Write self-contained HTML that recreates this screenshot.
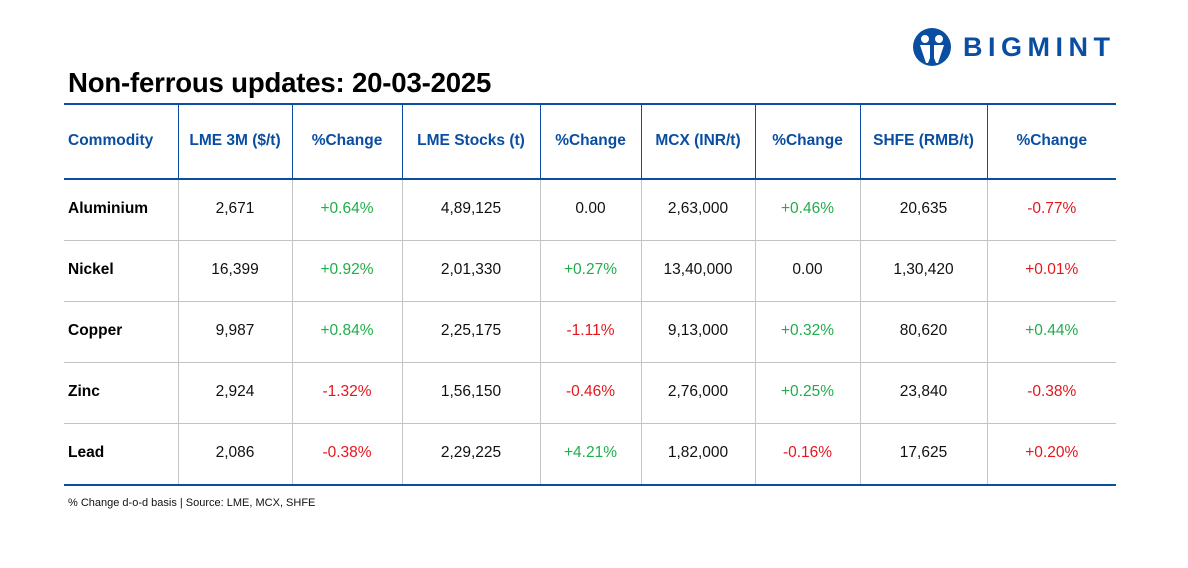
<!DOCTYPE html>
<html><head><meta charset="utf-8"><style>
body{margin:0;width:1188px;height:568px;background:#fff;position:relative;font-family:"Liberation Sans",Arial,sans-serif;overflow:hidden}
h1{position:absolute;left:68px;top:67px;margin:0;font-size:27.6px;font-weight:bold;color:#000;letter-spacing:-0.2px}
table{position:absolute;left:64px;top:103px;border-collapse:collapse;table-layout:fixed;width:1052px}
td,th{padding:0;text-align:center;font-size:15.5px;color:#111}
th{height:72px;color:#0a4ea2;font-weight:bold;border-top:2px solid #0a4ea2;border-bottom:2px solid #0a4ea2;border-left:1.5px solid #0a4ea2;padding-bottom:1px}
td{height:58px;border-top:1px solid #c4c4c4;border-left:1px solid #c4c4c4;padding-bottom:2px}
tr:last-child td{border-bottom:2px solid #0a4ea2}
th:first-child,td:first-child{border-left:none;text-align:left;padding-left:4px}
td:first-child{font-weight:bold;color:#000}
.g{color:#1fae4a}.r{color:#e5161c}
.note{position:absolute;left:68px;top:497px;font-size:11px;color:#111}
.logo{position:absolute;left:912px;top:27px;display:flex;align-items:center}
.logo span{font-size:27px;font-weight:bold;color:#0a4ea2;letter-spacing:5.5px;margin-left:11px}
</style></head><body>
<div class="logo"><svg width="40" height="40" viewBox="0 0 40 40"><circle cx="20" cy="20" r="19" fill="#0a4ea2"/><circle cx="13" cy="12" r="4" fill="#fff"/><circle cx="27" cy="12" r="4" fill="#fff"/><path d="M8 18h10v18h-4zM32 18H22v18h4z" fill="#fff"/><path d="M16 36l4-10 4 10z" fill="#0a4ea2"/></svg><span>BIGMINT</span></div>
<h1>Non-ferrous updates: 20-03-2025</h1>
<table>
<colgroup><col style="width:114px"><col style="width:114px"><col style="width:110px"><col style="width:138px"><col style="width:101px"><col style="width:114px"><col style="width:105px"><col style="width:127px"><col style="width:129px"></colgroup>
<tr><th>Commodity</th><th>LME 3M ($/t)</th><th>%Change</th><th>LME Stocks (t)</th><th>%Change</th><th>MCX (INR/t)</th><th>%Change</th><th>SHFE (RMB/t)</th><th>%Change</th></tr>
<tr><td>Aluminium</td><td>2,671</td><td class="g">+0.64%</td><td>4,89,125</td><td>0.00</td><td>2,63,000</td><td class="g">+0.46%</td><td>20,635</td><td class="r">-0.77%</td></tr>
<tr><td>Nickel</td><td>16,399</td><td class="g">+0.92%</td><td>2,01,330</td><td class="g">+0.27%</td><td>13,40,000</td><td>0.00</td><td>1,30,420</td><td class="r">+0.01%</td></tr>
<tr><td>Copper</td><td>9,987</td><td class="g">+0.84%</td><td>2,25,175</td><td class="r">-1.11%</td><td>9,13,000</td><td class="g">+0.32%</td><td>80,620</td><td class="g">+0.44%</td></tr>
<tr><td>Zinc</td><td>2,924</td><td class="r">-1.32%</td><td>1,56,150</td><td class="r">-0.46%</td><td>2,76,000</td><td class="g">+0.25%</td><td>23,840</td><td class="r">-0.38%</td></tr>
<tr><td>Lead</td><td>2,086</td><td class="r">-0.38%</td><td>2,29,225</td><td class="g">+4.21%</td><td>1,82,000</td><td class="r">-0.16%</td><td>17,625</td><td class="r">+0.20%</td></tr>
</table>
<div class="note">% Change d-o-d basis | Source: LME, MCX, SHFE</div>
</body></html>
